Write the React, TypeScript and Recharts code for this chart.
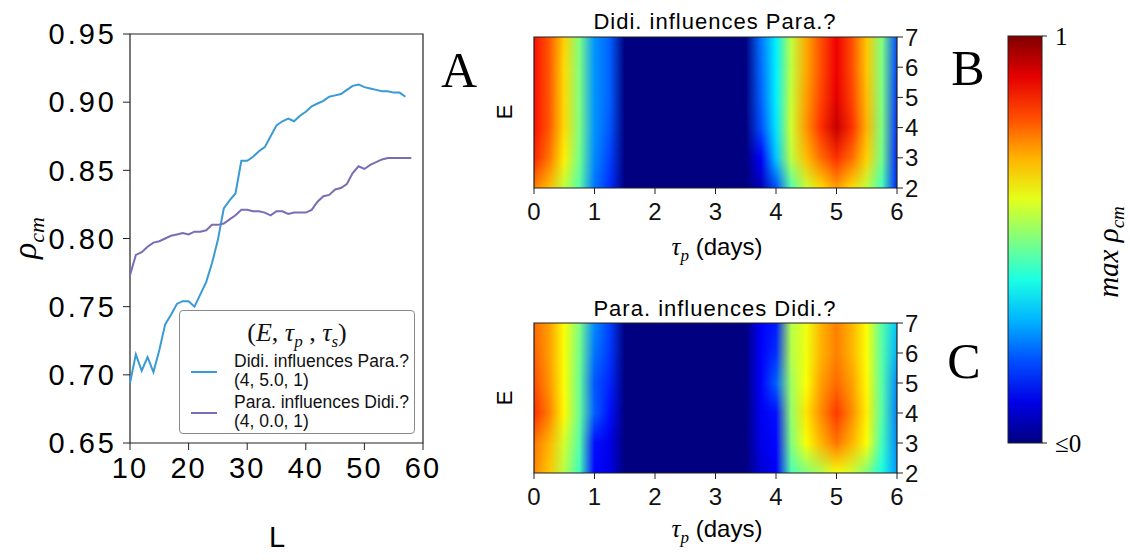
import React from 'react';
import { LineChart, Line, XAxis, YAxis, ReferenceArea, Legend, ComposedChart } from 'recharts';

// ---------- Panel A data ----------
const L_VALUES = [10, 11, 12, 13, 14, 15, 16, 17, 18, 19, 20, 21, 22, 23, 24, 25, 26, 27, 28, 29, 30, 31, 32, 33, 34, 35, 36, 37, 38, 39, 40, 41, 42, 43, 44, 45, 46, 47, 48, 49, 50, 51, 52, 53, 54, 55, 56, 57, 58];
const DIDI_TO_PARA = [0.694, 0.715, 0.703, 0.713, 0.702, 0.718, 0.737, 0.744, 0.752, 0.754, 0.754, 0.750, 0.759, 0.768, 0.782, 0.799, 0.822, 0.828, 0.833, 0.857, 0.857, 0.860, 0.864, 0.867, 0.875, 0.883, 0.886, 0.888, 0.886, 0.890, 0.893, 0.897, 0.899, 0.901, 0.904, 0.905, 0.906, 0.909, 0.912, 0.913, 0.911, 0.910, 0.909, 0.908, 0.908, 0.907, 0.907, 0.904];
const PARA_TO_DIDI = [0.773, 0.788, 0.790, 0.794, 0.797, 0.798, 0.800, 0.802, 0.803, 0.804, 0.803, 0.805, 0.805, 0.806, 0.810, 0.810, 0.811, 0.814, 0.817, 0.821, 0.821, 0.820, 0.820, 0.819, 0.817, 0.820, 0.820, 0.818, 0.819, 0.819, 0.819, 0.821, 0.827, 0.831, 0.832, 0.836, 0.837, 0.840, 0.848, 0.853, 0.851, 0.854, 0.856, 0.858, 0.859, 0.859, 0.859, 0.859, 0.859];
const SERIES_KEYS = ['didi', 'para'];
const SERIES_NAMES = ['Didi. influences Para.?', 'Para. influences Didi.?'];
const SERIES_PARAMS = ['(4, 5.0, 1)', '(4, 0.0, 1)'];
const SERIES_COLORS = ['#3a9ad6', '#7b6cb6'];
const L_TICKS = [10, 20, 30, 40, 50, 60];
const RHO_TICKS = [0.65, 0.7, 0.75, 0.8, 0.85, 0.9, 0.95];

// ---------- Panels B / C data (rows E = 2..7, columns tau) ----------
const TAU = [0, 0.25, 0.5, 0.75, 1, 1.25, 1.5, 1.75, 2, 2.25, 2.5, 2.75, 3, 3.25, 3.5, 3.75, 4, 4.25, 4.5, 4.75, 5, 5.25, 5.5, 5.75, 6];
const TAU_TICKS = [0, 1, 2, 3, 4, 5, 6];
const E_ROWS = [2, 3, 4, 5, 6, 7];

const B_E2 = [0.75, 0.69, 0.56, 0.46, 0.24, 0.17, 0, 0, 0, 0, 0, 0, 0, 0, 0, 0.05, 0.20, 0.45, 0.57, 0.66, 0.72, 0.66, 0.56, 0.44, 0.16];
const B_E3 = [0.84, 0.76, 0.64, 0.49, 0.26, 0.19, 0, 0, 0, 0, 0, 0, 0, 0, 0, 0.12, 0.32, 0.56, 0.69, 0.77, 0.83, 0.77, 0.67, 0.49, 0.16];
const B_E4 = [0.86, 0.79, 0.66, 0.50, 0.27, 0.21, 0, 0, 0, 0, 0, 0, 0, 0, 0, 0.20, 0.35, 0.58, 0.73, 0.83, 0.93, 0.83, 0.70, 0.50, 0.17];
const B_E5 = [0.86, 0.79, 0.66, 0.50, 0.27, 0.22, 0, 0, 0, 0, 0, 0, 0, 0, 0, 0.22, 0.36, 0.57, 0.72, 0.81, 0.90, 0.81, 0.69, 0.50, 0.18];
const B_E6 = [0.86, 0.79, 0.66, 0.50, 0.27, 0.22, 0, 0, 0, 0, 0, 0, 0, 0, 0, 0.23, 0.36, 0.56, 0.71, 0.80, 0.89, 0.80, 0.68, 0.50, 0.19];
const B_E7 = [0.86, 0.79, 0.67, 0.50, 0.27, 0.22, 0, 0, 0, 0, 0, 0, 0, 0, 0, 0.24, 0.36, 0.56, 0.71, 0.80, 0.89, 0.80, 0.68, 0.50, 0.20];

const C_E2 = [0.74, 0.68, 0.55, 0.44, 0.13, 0.10, 0, 0, 0, 0, 0, 0, 0, 0, 0, 0.08, 0.12, 0.45, 0.50, 0.55, 0.62, 0.58, 0.50, 0.40, 0.28];
const C_E3 = [0.76, 0.70, 0.58, 0.46, 0.14, 0.10, 0, 0, 0, 0, 0, 0, 0, 0, 0, 0.10, 0.13, 0.50, 0.62, 0.70, 0.76, 0.70, 0.62, 0.44, 0.26];
const C_E4 = [0.83, 0.75, 0.63, 0.48, 0.22, 0.14, 0, 0, 0, 0, 0, 0, 0, 0, 0, 0.11, 0.14, 0.52, 0.65, 0.74, 0.82, 0.74, 0.64, 0.46, 0.25];
const C_E5 = [0.80, 0.73, 0.62, 0.48, 0.21, 0.16, 0, 0, 0, 0, 0, 0, 0, 0, 0, 0.12, 0.22, 0.53, 0.62, 0.72, 0.77, 0.72, 0.63, 0.46, 0.26];
const C_E6 = [0.78, 0.72, 0.62, 0.49, 0.24, 0.18, 0, 0, 0, 0, 0, 0, 0, 0, 0, 0.12, 0.17, 0.55, 0.61, 0.70, 0.75, 0.70, 0.62, 0.46, 0.30];
const C_E7 = [0.77, 0.72, 0.62, 0.50, 0.26, 0.19, 0, 0, 0, 0, 0, 0, 0, 0, 0, 0.12, 0.15, 0.55, 0.61, 0.70, 0.75, 0.70, 0.62, 0.46, 0.32];

const B_GRID = [B_E2, B_E3, B_E4, B_E5, B_E6, B_E7];
const C_GRID = [C_E2, C_E3, C_E4, C_E5, C_E6, C_E7];

const COLORBAR_TICKS = [0, 1];
const COLORBAR_LABELS = ['≤0', '1'];
const COLORBAR_STOPS = [0, 0.1, 0.2, 0.3, 0.4, 0.5, 0.6, 0.7, 0.8, 0.9, 1];

// ---------- helpers ----------
const SANS = '"Liberation Sans", Arial, sans-serif';
const SERIF = '"Liberation Serif", "Times New Roman", serif';

const LINE_TABLE = L_VALUES.map((L, i) => ({
  L,
  didi: i < DIDI_TO_PARA.length ? DIDI_TO_PARA[i] : null,
  para: i < PARA_TO_DIDI.length ? PARA_TO_DIDI[i] : null,
}));

function clamp01(v: number) {
  return Math.max(0, Math.min(1, v));
}
function jet(v: number) {
  const x = clamp01(v);
  const r = clamp01(1.5 - Math.abs(4 * x - 3));
  const g = clamp01(1.5 - Math.abs(4 * x - 2));
  const b = clamp01(1.5 - Math.abs(4 * x - 1));
  const h = (c: number) => Math.round(c * 255).toString(16).padStart(2, '0');
  return `#${h(r)}${h(g)}${h(b)}`;
}

const Abs = ({ x, y, rotate = 0, style, children }: any) => (
  <div
    style={{
      position: 'absolute',
      left: x,
      top: y,
      transform: `translate(-50%, -50%) rotate(${rotate}deg)`,
      whiteSpace: 'nowrap',
      lineHeight: 1,
      color: '#000',
      ...style,
    }}
  >
    {children}
  </div>
);

const TauLabel = ({ x, y }: any) => (
  <Abs x={x} y={y} style={{ fontFamily: SANS, fontSize: 24 }}>
    <span style={{ fontFamily: SERIF, fontStyle: 'italic', fontSize: 25 }}>τ</span>
    <span style={{ fontFamily: SERIF, fontStyle: 'italic', fontSize: 17, position: 'relative', top: 6 }}>p</span>
    <span> (days)</span>
  </Abs>
);

function makeLayerShape(id: string, k: number, values: number[]) {
  return (props: any) => {
    const { x, y, width, height } = props;
    if (![x, y, width, height].every((n) => Number.isFinite(n))) return <g />;
    const gid = `${id}-row-${k}`;
    const rid = `${id}-ramp-${k}`;
    const mid = `${id}-mask-${k}`;
    const f = k === 0 ? 1 : (7 - E_ROWS[k]) / (7 - E_ROWS[k - 1]);
    return (
      <g>
        <defs>
          <linearGradient id={gid} x1="0" y1="0" x2="1" y2="0">
            {TAU.map((t, i) => (
              <stop key={i} offset={t / 6} stopColor={jet(values[i])} />
            ))}
          </linearGradient>
          {k > 0 && (
            <linearGradient id={rid} x1="0" y1="0" x2="0" y2="1">
              <stop offset={0} stopColor="#fff" stopOpacity={1} />
              <stop offset={f} stopColor="#fff" stopOpacity={1} />
              <stop offset={1} stopColor="#fff" stopOpacity={0} />
            </linearGradient>
          )}
          {k > 0 && (
            <mask id={mid} maskContentUnits="objectBoundingBox" style={{ maskType: 'alpha' } as any}>
              <rect x={0} y={0} width={1} height={1} fill={`url(#${rid})`} />
            </mask>
          )}
        </defs>
        <rect
          x={x}
          y={y}
          width={width}
          height={height}
          fill={`url(#${gid})`}
          mask={k > 0 ? `url(#${mid})` : undefined}
        />
      </g>
    );
  };
}

function Heatmap({ id, grid, top, marginTop, marginBottom }: any) {
  return (
    <div style={{ position: 'absolute', left: 490, top, width: 460, height: 280 }}>
      <ComposedChart width={460} height={280} margin={{ top: marginTop, right: 13, bottom: marginBottom, left: 44 }}>
        <XAxis
          type="number"
          dataKey="tau"
          domain={[0, 6]}
          ticks={TAU_TICKS}
          interval={0}
          allowDataOverflow
          axisLine={false}
          tickSize={6}
          tickMargin={9}
          tickLine={{ stroke: '#222' }}
          tick={{ fontSize: 24, fill: '#111', fontFamily: SANS }}
        />
        <YAxis
          type="number"
          orientation="right"
          domain={[2, 7]}
          ticks={E_ROWS}
          interval={0}
          allowDataOverflow
          width={40}
          axisLine={false}
          tickSize={6}
          tickMargin={2}
          tickLine={{ stroke: '#222' }}
          tick={{ fontSize: 24, fill: '#111', fontFamily: SANS }}
        />
        {E_ROWS.map((e, k) => (
          <ReferenceArea
            key={e}
            x1={0}
            x2={6}
            y1={k === 0 ? 2 : E_ROWS[k - 1]}
            y2={7}
            ifOverflow="visible"
            shape={makeLayerShape(id, k, grid[k])}
          />
        ))}
        <ReferenceArea x1={0} x2={6} y1={2} y2={7} ifOverflow="visible" fill="none" fillOpacity={0} stroke="#222" strokeWidth={1.2} />
      </ComposedChart>
    </div>
  );
}

function colorbarShape(props: any) {
  const { x, y, width, height } = props;
  if (![x, y, width, height].every((n) => Number.isFinite(n))) return <g />;
  return (
    <g>
      <defs>
        <linearGradient id="cbar-grad" x1="0" y1="1" x2="0" y2="0">
          {COLORBAR_STOPS.map((s, i) => (
            <stop key={i} offset={s} stopColor={jet(s)} />
          ))}
        </linearGradient>
      </defs>
      <rect x={x} y={y} width={width} height={height} fill="url(#cbar-grad)" stroke="#222" strokeWidth={1} />
    </g>
  );
}

function LegendBox(props: any) {
  const payload = props.payload || [];
  return (
    <div
      style={{
        width: 236,
        height: 124,
        border: '1px solid #8a8a8a',
        borderRadius: 4,
        background: '#fff',
        boxSizing: 'border-box',
        position: 'relative',
        fontFamily: SANS,
        color: '#111',
      }}
    >
      <div style={{ position: 'absolute', top: 9, left: 0, width: '100%', textAlign: 'center', fontFamily: SERIF, fontSize: 26, lineHeight: 1 }}>
        (<i>E</i>, <i>τ</i>
        <i style={{ fontSize: 17, position: 'relative', top: 6 }}>p</i> , <i>τ</i>
        <i style={{ fontSize: 17, position: 'relative', top: 6 }}>s</i>)
      </div>
      {payload.map((entry: any, i: number) => {
        const idx = SERIES_KEYS.indexOf(entry.dataKey);
        const top = 41 + i * 41;
        return (
          <div key={i}>
            <div style={{ position: 'absolute', left: 11, top: top + 19, width: 26, height: 2, background: entry.color }} />
            <div style={{ position: 'absolute', left: 54, top, fontSize: 17.5, lineHeight: '19px' }}>
              <div>{entry.value}</div>
              <div>{SERIES_PARAMS[idx]}</div>
            </div>
          </div>
        );
      })}
    </div>
  );
}

export default function App() {
  return (
    <div style={{ position: 'fixed', left: 0, top: 0, width: 1130, height: 560, background: '#fff', overflow: 'hidden' }}>
      {/* Panel A */}
      <div style={{ position: 'absolute', left: 0, top: 0 }}>
        <LineChart width={440} height={560} data={LINE_TABLE} margin={{ top: 34, right: 17, bottom: 87, left: 70 }}>
          <XAxis
            dataKey="L"
            type="number"
            domain={[10, 60]}
            ticks={L_TICKS}
            interval={0}
            axisLine={false}
            tickSize={7}
            tickMargin={7}
            tickLine={{ stroke: '#222' }}
            tick={{ fontSize: 29, fill: '#000', fontFamily: SANS, letterSpacing: 2 }}
          />
          <YAxis
            type="number"
            domain={[0.65, 0.95]}
            ticks={RHO_TICKS}
            interval={0}
            width={60}
            axisLine={false}
            tickSize={7}
            tickMargin={6}
            tickLine={{ stroke: '#222' }}
            tickFormatter={(v: number) => v.toFixed(2)}
            tick={{ fontSize: 29, fill: '#000', fontFamily: SANS, letterSpacing: 3 }}
          />
          <ReferenceArea x1={10} x2={60} y1={0.65} y2={0.95} fill="none" fillOpacity={0} stroke="#222" strokeWidth={1.2} ifOverflow="visible" />
          {SERIES_KEYS.map((k, i) => (
            <Line
              key={k}
              type="linear"
              dataKey={k}
              name={SERIES_NAMES[i]}
              stroke={SERIES_COLORS[i]}
              strokeWidth={2}
              dot={false}
              isAnimationActive={false}
              connectNulls={false}
            />
          ))}
          <Legend
            layout="vertical"
            align="center"
            verticalAlign="middle"
            content={<LegendBox />}
            wrapperStyle={{ position: 'absolute', left: 179, top: 310, width: 236, height: 124 }}
          />
        </LineChart>
      </div>
      <Abs x={25} y={238} rotate={-90} style={{ fontFamily: SERIF, fontStyle: 'italic', fontSize: 34 }}>
        ρ<span style={{ fontSize: 22, position: 'relative', top: 8 }}>cm</span>
      </Abs>
      <Abs x={277} y={537} style={{ fontFamily: SANS, fontSize: 29 }}>L</Abs>
      <Abs x={459} y={70} style={{ fontFamily: SERIF, fontSize: 50 }}>A</Abs>

      {/* Panel B */}
      <Heatmap id="hb" grid={B_GRID} top={0} marginTop={37} marginBottom={62} />
      <Abs x={715} y={22} style={{ fontFamily: SANS, fontSize: 22, letterSpacing: 1 }}>Didi. influences Para.?</Abs>
      <Abs x={505} y={112} rotate={-90} style={{ fontFamily: SANS, fontSize: 22 }}>E</Abs>
      <TauLabel x={717} y={246} />
      <Abs x={968} y={68} style={{ fontFamily: SERIF, fontSize: 50 }}>B</Abs>

      {/* Panel C */}
      <Heatmap id="hc" grid={C_GRID} top={280} marginTop={43} marginBottom={57} />
      <Abs x={715} y={309} style={{ fontFamily: SANS, fontSize: 22, letterSpacing: 1 }}>Para. influences Didi.?</Abs>
      <Abs x={505} y={398} rotate={-90} style={{ fontFamily: SANS, fontSize: 22 }}>E</Abs>
      <TauLabel x={717} y={528} />
      <Abs x={964} y={361} style={{ fontFamily: SERIF, fontSize: 50 }}>C</Abs>

      {/* Colorbar */}
      <div style={{ position: 'absolute', left: 960, top: 0, width: 170, height: 480 }}>
        <ComposedChart width={170} height={480} margin={{ top: 36, right: 38, bottom: 36, left: 48 }}>
          <XAxis
            type="number"
            dataKey="c"
            domain={[0, 1]}
            allowDataOverflow
            height={1}
            tick={false}
            axisLine={false}
            tickLine={false}
          />
          <YAxis
            type="number"
            orientation="right"
            domain={[0, 1]}
            ticks={COLORBAR_TICKS}
            interval={0}
            allowDataOverflow
            width={50}
            axisLine={false}
            tickSize={5}
            tickMargin={8}
            tickLine={{ stroke: '#222' }}
            tickFormatter={(v: number) => COLORBAR_LABELS[COLORBAR_TICKS.indexOf(v)]}
            tick={{ fontSize: 25, fill: '#000', fontFamily: SERIF }}
          />
          <ReferenceArea x1={0} x2={1} y1={0} y2={1} ifOverflow="visible" shape={colorbarShape} />
        </ComposedChart>
      </div>
      <Abs x={1108} y={252} rotate={-90} style={{ fontFamily: SERIF, fontStyle: 'italic', fontSize: 29 }}>
        max ρ<span style={{ fontSize: 19, position: 'relative', top: 6 }}>cm</span>
      </Abs>
    </div>
  );
}
